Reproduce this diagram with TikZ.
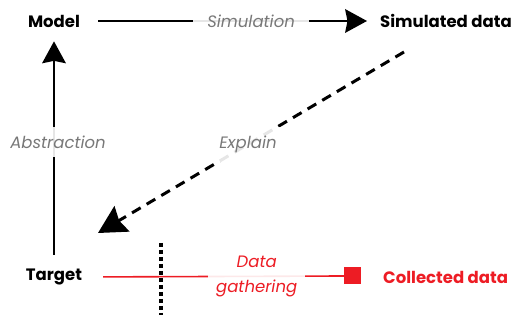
\documentclass[tikz,border=0pt]{standalone}
\usepackage{fontspec}
\setmainfont{Poppins}
\definecolor{dred}{RGB}{237,28,36}
\definecolor{lgray}{RGB}{120,120,120}
\tikzset{
  term/.style={font=\bfseries\fontsize{16.5}{19}\selectfont, inner sep=0pt},
  lbl/.style={font=\itshape\fontsize{16.5}{20}\selectfont, text=lgray, fill=white, fill opacity=0.9, text opacity=1, inner xsep=14pt, inner ysep=9pt},
  redlbl/.style={font=\itshape\fontsize{16.5}{25}\selectfont, text=dred, fill=white, fill opacity=0.9, text opacity=1, inner xsep=8pt, inner ysep=2pt, align=center},
  solidline/.style={line width=2pt},
  dashline/.style={line width=3pt, dash pattern=on 10pt off 7pt},
  redline/.style={line width=1.6pt, draw=dred},
  shead/.pic={\fill[black] (0,0) -- (-22,12) -- (-19.5,0) -- (-22,-12) -- cycle;},
  bighead/.pic={\fill[black] (0,0) -- (-28,15) -- (-24.5,0) -- (-28,-15) -- cycle;},
}
\begin{document}
\begin{tikzpicture}[x=1pt,y=1pt]
\useasboundingbox (0,0) rectangle (512,320);
\clip (0,0) rectangle (512,320);
\node[term] (model) at (54,299) {Model};
\node[term] (target) at (54,43) {Target};
\node[term, anchor=west] (simdata) at (380,299) {Simulated data};
\node[term, anchor=west, text=dred] (coldata) at (383,43) {Collected data};
\node[fill=dred, minimum size=17pt, inner sep=0pt] (sq) at (352.5,44) {};
\coordinate (e1) at (404,268);
\coordinate (e2) at (98,87);
\coordinate (d1) at (161,77);
\coordinate (d2) at (161,5);
\coordinate (simtip) at ([xshift=-13pt]simdata.west);
\coordinate (abstip) at ([yshift=-14pt]model.south);
% connectors
\draw[solidline, shorten <=18pt, shorten >=25pt] (model.east) -- (simdata.west);
\pic at (simtip) {shead};
\draw[solidline, shorten <=14pt, shorten >=26pt] (target.north) -- (model.south);
\pic[rotate=90] at (abstip) {shead};
\draw[dashline, shorten >=20pt] (e1) -- (e2);
\pic[rotate=210.6] at (e2) {bighead};
\draw[redline, shorten <=21pt] (target.east) -- (sq.west);
\draw[line width=4pt, dash pattern=on 4pt off 3pt] (d1) -- (d2);
% labels
\path (model.east) -- (simdata.west) node[lbl, pos=0.57] (simlbl) {Simulation};
\path (target.north) -- (model.south) node[lbl, pos=0.525, xshift=4pt] (abslbl) {Abstraction};
\path (e1) -- (e2) node[lbl, pos=0.51] (explbl) {Explain};
\path (target.east) -- (sq.west) node[redlbl, pos=0.667] (datalbl) {Data\\gathering};
\end{tikzpicture}
\end{document}
